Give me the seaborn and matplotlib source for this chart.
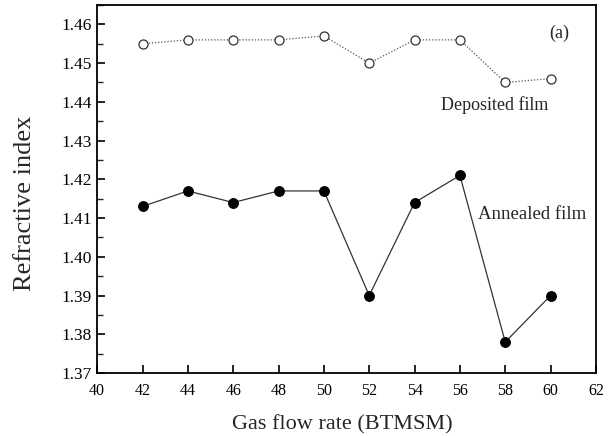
import matplotlib
matplotlib.use("Agg")
import matplotlib.pyplot as plt
import seaborn as sns
import pandas as pd
from matplotlib.ticker import MultipleLocator

flow_rate = [42, 44, 46, 48, 50, 52, 54, 56, 58, 60]
deposited = [1.455, 1.456, 1.456, 1.456, 1.457, 1.450, 1.456, 1.456, 1.445, 1.446]
annealed = [1.413, 1.417, 1.414, 1.417, 1.417, 1.390, 1.414, 1.421, 1.378, 1.390]

sns.set_style("ticks")
plt.rcParams['font.family'] = ['Liberation Serif', 'DejaVu Serif']
plt.rcParams['mathtext.fontset'] = 'stix'

df_dep = pd.DataFrame({"x": flow_rate, "y": deposited})
df_ann = pd.DataFrame({"x": flow_rate, "y": annealed})

fig = plt.figure(figsize=(6.15, 4.36), dpi=100)
ax = fig.add_axes([0.158, 0.1445, 0.811, 0.844])

sns.lineplot(data=df_dep, x="x", y="y", ax=ax, color="#555555", linestyle=(0, (1, 1.5)),
             linewidth=0.9, marker="o", markersize=6.5, markerfacecolor="white",
             markeredgecolor="#333333", markeredgewidth=0.9)
sns.lineplot(data=df_ann, x="x", y="y", ax=ax, color="#333333", linestyle="-",
             linewidth=0.9, marker="o", markersize=7, markerfacecolor="black",
             markeredgecolor="black", markeredgewidth=0.8)

ax.set_xlim(40, 62)
ax.set_ylim(1.37, 1.465)
ax.xaxis.set_major_locator(MultipleLocator(2))
ax.yaxis.set_major_locator(MultipleLocator(0.01))
ax.yaxis.set_minor_locator(MultipleLocator(0.005))
ax.yaxis.set_major_formatter(matplotlib.ticker.FormatStrFormatter('%.2f'))
ax.tick_params(axis='both', which='major', direction='in', length=6, width=1.2,
               top=False, right=False, colors='black')
ax.tick_params(axis='x', labelsize=11.5, pad=7)
ax.tick_params(axis='y', labelsize=12.5, pad=4)
ax.tick_params(axis='y', which='minor', direction='in', length=4, width=1.0, right=False)
for s in ax.spines.values():
    s.set_linewidth(1.3)
    s.set_color('black')

ax.set_xlabel("Gas flow rate (BTMSM)", fontsize=16)
ax.set_ylabel("Refractive index", fontsize=19)
ax.xaxis.set_label_coords(0.491, -0.115)
ax.yaxis.set_label_coords(-0.122, 0.462)

ax.text(60.4, 1.4577, "(a)", fontsize=13, ha='center', va='center')
ax.text(57.55, 1.4391, "Deposited film", fontsize=13, ha='center', va='center')
ax.text(59.2, 1.4108, "Annealed film", fontsize=13.5, ha='center', va='center')

fig.savefig("out.png", dpi=100)
